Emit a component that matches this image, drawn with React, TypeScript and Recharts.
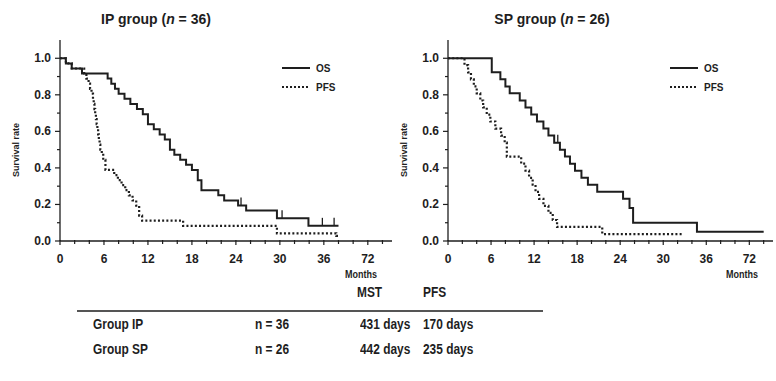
import { LineChart, Line, XAxis, YAxis, Legend } from "recharts";

// Kaplan-Meier curves (months, survival rate)
const ipOsMonths = [0, 0.8, 1.6, 3.0, 6.5, 7.0, 7.5, 8.0, 8.8, 9.6, 10.5, 11.3, 12.0, 12.8, 13.6, 14.3, 15.0, 15.6, 16.4, 17.2, 18.0, 18.8, 19.3, 21.6, 22.4, 24.3, 25.4, 29.6, 33.9, 38.0];
const ipOsRate = [1.0, 0.972, 0.944, 0.917, 0.889, 0.861, 0.833, 0.806, 0.778, 0.75, 0.722, 0.694, 0.639, 0.611, 0.583, 0.556, 0.5, 0.472, 0.444, 0.417, 0.389, 0.333, 0.278, 0.25, 0.222, 0.194, 0.167, 0.125, 0.083, 0.083];
const ipOsCensorMonths = [24.7, 30.3, 35.8, 37.4];
const ipOsCensorRate = [0.194, 0.125, 0.083, 0.083];

const ipPfsMonths = [0, 0.8, 1.6, 3.3, 3.6, 3.9, 4.1, 4.3, 4.5, 4.6, 4.7, 4.8, 4.9, 5.0, 5.1, 5.2, 5.3, 5.4, 5.5, 5.7, 5.9, 6.2, 7.4, 7.9, 8.4, 8.9, 9.4, 9.9, 10.4, 10.8, 11.2, 16.8, 29.6, 37.7, 38.0];
const ipPfsRate = [1.0, 0.972, 0.944, 0.917, 0.889, 0.861, 0.833, 0.806, 0.778, 0.75, 0.722, 0.694, 0.667, 0.639, 0.611, 0.583, 0.556, 0.528, 0.5, 0.472, 0.444, 0.389, 0.361, 0.333, 0.306, 0.278, 0.25, 0.222, 0.194, 0.139, 0.111, 0.083, 0.042, 0.028, 0.028];

const spOsMonths = [0, 6.1, 7.3, 8.0, 8.6, 10.0, 10.8, 11.6, 12.4, 13.3, 14.0, 14.8, 15.6, 16.3, 17.0, 17.7, 18.6, 19.5, 20.8, 24.4, 25.3, 25.8, 34.7, 44.0];
const spOsRate = [1.0, 0.923, 0.885, 0.846, 0.808, 0.769, 0.731, 0.692, 0.654, 0.615, 0.577, 0.538, 0.5, 0.462, 0.423, 0.385, 0.346, 0.308, 0.269, 0.231, 0.18, 0.1, 0.05, 0.05];
const spOsCensorMonths = [15.3];
const spOsCensorRate = [0.538];

const spPfsMonths = [0, 2.3, 2.8, 3.2, 3.6, 4.0, 4.5, 4.9, 5.4, 5.9, 6.6, 7.4, 7.9, 8.2, 10.2, 10.8, 11.3, 11.8, 12.2, 12.7, 13.3, 14.0, 14.6, 15.2, 21.5, 32.8];
const spPfsRate = [1.0, 0.962, 0.923, 0.885, 0.846, 0.808, 0.769, 0.731, 0.692, 0.654, 0.615, 0.577, 0.538, 0.462, 0.423, 0.385, 0.346, 0.308, 0.269, 0.231, 0.192, 0.154, 0.115, 0.077, 0.038, 0.038];

// axes
const xTicks = [0, 2, 4, 6, 8, 10, 12, 14, 16, 18, 20, 22, 24, 26, 28, 30, 32, 34, 36, 38, 40, 42, 44];
const xMajorTicks = [0, 6, 12, 18, 24, 30, 36, 42];
const xTickLabels = ["0", "6", "12", "18", "24", "30", "36", "72"];
const yTicks = [0, 0.1, 0.2, 0.3, 0.4, 0.5, 0.6, 0.7, 0.8, 0.9, 1.0];
const yMajorTicks = [0, 0.2, 0.4, 0.6, 0.8, 1.0];
const yTickLabels = ["0.0", "0.2", "0.4", "0.6", "0.8", "1.0"];

const legendNames = ["OS", "PFS"];

// summary table
const tableHeaders = ["MST", "PFS"];
const tableGroups = ["Group IP", "Group SP"];
const tableN = ["n = 36", "n = 26"];
const tableMst = ["431 days", "442 days"];
const tablePfs = ["170 days", "235 days"];

const ink = "#1e1e1e";
const font = "'Liberation Sans', Arial, sans-serif";

const toPoints = (t: number[], s: number[]) => t.map((m, i) => ({ t: m, s: s[i] }));

function XTick(props: any) {
  const { x, y, payload } = props;
  const idx = xMajorTicks.indexOf(payload.value);
  return (
    <g>
      <line x1={x} x2={x} y1={y - 1} y2={y + (idx >= 0 ? 4 : 3)} stroke={ink} strokeWidth={1.2} />
      {idx >= 0 && (
        <text x={x} y={y + 22} textAnchor="middle" fontFamily={font} fontWeight="bold" fontSize={12} fill={ink}>
          {xTickLabels[idx]}
        </text>
      )}
    </g>
  );
}

function YTick(props: any) {
  const { x, y, payload } = props;
  const idx = yMajorTicks.findIndex((v) => Math.abs(v - payload.value) < 1e-6);
  return (
    <g>
      <line x1={x - (idx >= 0 ? 5 : 3)} x2={x} y1={y} y2={y} stroke={ink} strokeWidth={1.2} />
      {idx >= 0 && (
        <text x={x - 9} y={y + 4} textAnchor="end" fontFamily={font} fontWeight="bold" fontSize={12} fill={ink}>
          {yTickLabels[idx]}
        </text>
      )}
    </g>
  );
}

function CensorMark(props: any) {
  const { cx, cy } = props;
  if (cx == null || cy == null) return null;
  return <line x1={cx} x2={cx} y1={cy - 8} y2={cy} stroke={ink} strokeWidth={1.3} />;
}

function KmLegend() {
  return (
    <svg width={70} height={40}>
      {legendNames.map((name, i) => (
        <g key={name}>
          <line
            x1={2}
            x2={30}
            y1={10 + i * 19}
            y2={10 + i * 19}
            stroke={ink}
            strokeWidth={2}
            strokeDasharray={i === 1 ? "2 2" : undefined}
          />
          <text x={36} y={14 + i * 19} fontFamily={font} fontWeight="bold" fontSize={10} fill={ink}>
            {name}
          </text>
        </g>
      ))}
    </svg>
  );
}

type KmProps = {
  left: number;
  width: number;
  rightMargin: number;
  os: { t: number; s: number }[];
  pfs: { t: number; s: number }[];
  censor: { t: number; s: number }[];
  title: string;
  n: number;
  titleCenter: number;
};

function KmChart({ left, width, rightMargin, os, pfs, censor, title, n, titleCenter }: KmProps) {
  return (
    <div style={{ position: "absolute", left, top: 0, width, height: 282 }}>
      <div
        style={{
          position: "absolute",
          left: titleCenter - 100,
          width: 200,
          top: 11,
          textAlign: "center",
          fontFamily: font,
          fontWeight: "bold",
          fontSize: 14,
          color: ink,
        }}
      >
        {title} (<i>n</i> = {n})
      </div>
      <LineChart width={width} height={282} margin={{ top: 40, right: rightMargin, bottom: 0, left: 0 }}>
        <XAxis
          type="number"
          dataKey="t"
          domain={[0, 45.3]}
          ticks={xTicks}
          interval={0}
          tick={<XTick />}
          tickLine={false}
          tickSize={0}
          tickMargin={0}
          height={41}
          stroke={ink}
          strokeWidth={1.3}
          allowDataOverflow
        />
        <YAxis
          type="number"
          domain={[0, 1.1]}
          ticks={yTicks}
          interval={0}
          tick={<YTick />}
          tickLine={false}
          tickSize={0}
          tickMargin={0}
          width={60}
          stroke={ink}
          strokeWidth={1.3}
          allowDataOverflow
        />
        <Line data={os} dataKey="s" name="OS" type="stepAfter" stroke={ink} strokeWidth={2} dot={false} isAnimationActive={false} />
        <Line data={pfs} dataKey="s" name="PFS" type="stepAfter" stroke={ink} strokeWidth={2.2} strokeDasharray="2 2.2" dot={false} isAnimationActive={false} />
        <Line data={censor} dataKey="s" name="censored" stroke="none" dot={<CensorMark />} legendType="none" isAnimationActive={false} />
        <Legend
          layout="vertical"
          align="center"
          verticalAlign="middle"
          content={<KmLegend />}
          wrapperStyle={{ left: 280, top: 58, width: 70, height: 40 }}
        />
      </LineChart>
      <div
        style={{
          position: "absolute",
          left: 8,
          top: 150,
          transform: "translate(-50%, -50%) rotate(-90deg)",
          fontFamily: font,
          fontWeight: "bold",
          fontSize: 9,
          color: ink,
          whiteSpace: "nowrap",
          marginLeft: 8,
        }}
      >
        Survival rate
      </div>
      <div
        style={{
          position: "absolute",
          left: width - rightMargin - 47,
          top: 269,
          fontFamily: font,
          fontWeight: "bold",
          fontSize: 10,
          color: ink,
          transform: "scaleX(0.9)",
          transformOrigin: "left center",
        }}
      >
        Months
      </div>
    </div>
  );
}

export default function App() {
  const cell = (text: string, x: number, y: number) => (
    <div
      key={text + x + y}
      style={{
        position: "absolute",
        left: x,
        top: y - 9,
        fontFamily: font,
        fontWeight: "bold",
        fontSize: 14,
        color: ink,
        whiteSpace: "nowrap",
        transform: "scaleX(0.85)",
        transformOrigin: "left center",
      }}
    >
      {text}
    </div>
  );

  return (
    <div style={{ position: "absolute", left: 0, top: 0, width: 776, height: 381, background: "#fff", overflow: "hidden" }}>
      <KmChart
        left={0}
        width={400}
        rightMargin={8}
        os={toPoints(ipOsMonths, ipOsRate)}
        pfs={toPoints(ipPfsMonths, ipPfsRate)}
        censor={toPoints(ipOsCensorMonths, ipOsCensorRate)}
        title="IP group"
        n={36}
        titleCenter={156}
      />
      <KmChart
        left={388}
        width={388}
        rightMargin={3}
        os={toPoints(spOsMonths, spOsRate)}
        pfs={toPoints(spPfsMonths, spPfsRate)}
        censor={toPoints(spOsCensorMonths, spOsCensorRate)}
        title="SP group"
        n={26}
        titleCenter={164}
      />

      {cell(tableHeaders[0], 357, 293)}
      {cell(tableHeaders[1], 423, 293)}
      <div style={{ position: "absolute", left: 77, top: 310, width: 466, height: 2, background: "#555" }} />
      {tableGroups.map((g, i) => (
        <div key={g}>
          {cell(g, 93, 325 + i * 25)}
          {cell(tableN[i], 255, 325 + i * 25)}
          {cell(tableMst[i], 360, 325 + i * 25)}
          {cell(tablePfs[i], 423, 325 + i * 25)}
        </div>
      ))}
    </div>
  );
}
